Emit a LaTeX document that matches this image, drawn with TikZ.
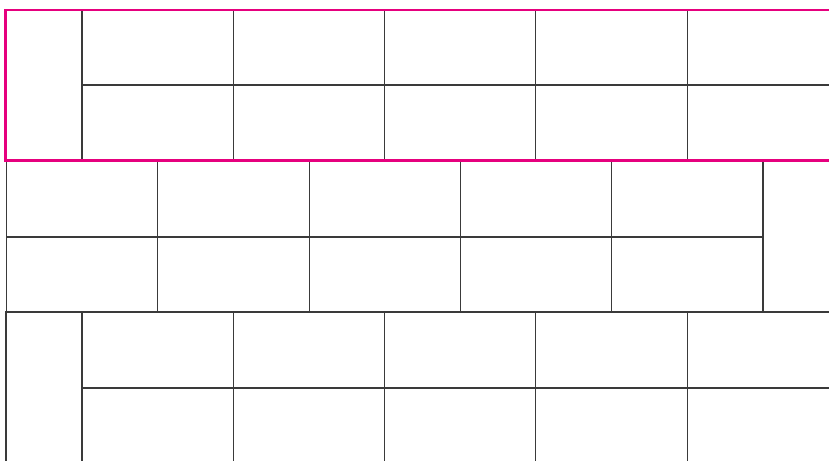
\documentclass[tikz,border=0pt]{standalone}
\usepackage{xcolor}
\definecolor{edge}{HTML}{3A3A3A}
\definecolor{mark}{HTML}{E6007E}

\begin{document}
\begin{tikzpicture}[x=1pt, y=-1pt,
  brick/.style={draw=edge, line width=1.1pt},
  outline/.style={draw=mark, line width=2.2pt}]
  \useasboundingbox (0,0) rectangle (829,460);
  \clip (0,0) rectangle (829,460);
  % top band: tall half brick, then stacked bricks
  \draw[brick] (6,10) rectangle (82,160);
  \foreach \i in {0,...,4} {
    \draw[brick] (82+151.3*\i,10) rectangle (233.3+151.3*\i,85);
    \draw[brick] (82+151.3*\i,85) rectangle (233.3+151.3*\i,160);
  }
  % middle band: stacked bricks, tall half brick on the right
  \foreach \i in {0,...,4} {
    \draw[brick] (6.5+151.3*\i,160) rectangle (157.8+151.3*\i,237);
    \draw[brick] (6.5+151.3*\i,237) rectangle (157.8+151.3*\i,312);
  }
  \draw[brick] (763,160) rectangle (840,312);
  % bottom band: same as the top band
  \draw[brick] (6,312) rectangle (82,470);
  \foreach \i in {0,...,4} {
    \draw[brick] (82+151.3*\i,312) rectangle (233.3+151.3*\i,388);
    \draw[brick] (82+151.3*\i,388) rectangle (233.3+151.3*\i,470);
  }
  % highlighted band
  \draw[outline] (5.5,10) rectangle (845,160.5);
\end{tikzpicture}
\end{document}
